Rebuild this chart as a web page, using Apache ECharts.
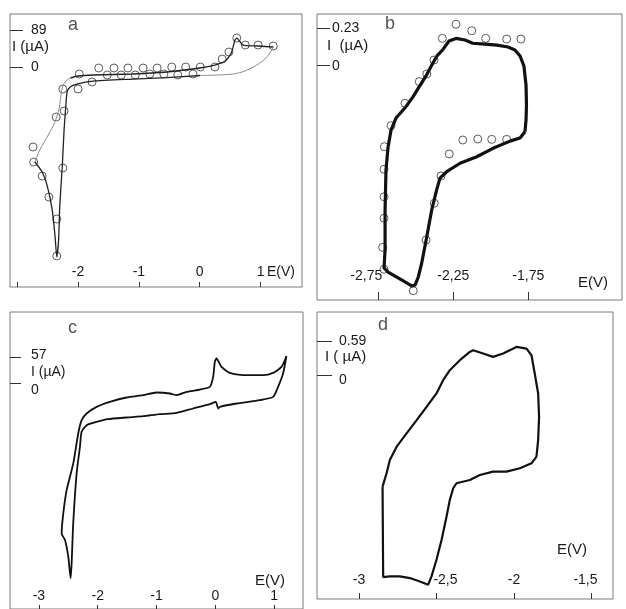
<!DOCTYPE html>
<html>
<head>
<meta charset="utf-8">
<script src="https://cdn.jsdelivr.net/npm/echarts@6/dist/echarts.min.js"></script>
<style>
  html, body { margin: 0; padding: 0; background: #fff; }
  #container { width: 626px; height: 609px; }
</style>
</head>
<body>
<div id="container"></div>
<script>
// ---- data (E in V, I in uA) ----
// panel a
var aBlackLower = [[0.01,-20.4],[-0.54,-25.3],[-1.10,-28.9],[-1.75,-33.7],[-2.02,-40.9],[-2.13,-48.1],[-2.18,-60.1],[-2.20,-91.4],[-2.23,-151.5],[-2.26,-240.5],[-2.30,-331.9],[-2.32,-416],[-2.35,-457],[-2.38,-404],[-2.43,-339],[-2.51,-284],[-2.59,-252.5],[-2.71,-228.5]];
var aGreyLeft = [[-2.71,-228.5],[-2.63,-199.6],[-2.49,-163.5],[-2.38,-132.3],[-2.31,-98.6],[-2.28,-67.3],[-2.25,-45.7],[-2.20,-33.7],[-2.13,-26.5]];
var aBlackUpper = [[-2.13,-26.5],[-2.00,-21.6],[-1.75,-19.2],[-1.10,-16.8],[-0.54,-12],[0.0,-2.4],[0.25,4.8],[0.42,14.4],[0.52,33.7],[0.58,64.9],[0.61,69.7],[0.71,52.9],[0.96,50.5],[1.21,48.1]];
var aGreyReturn = [[1.21,48.1],[1.11,24.8],[0.94,4.8],[0.71,-11.3],[0.50,-17.6],[0.01,-20.4]];
var aCircles = [[-1.98,-16.8],[-1.66,-2.4],[-1.41,-2.4],[-1.18,-2.4],[-0.93,-2.4],[-0.70,-2.4],[-0.46,0],[-0.23,0],[0.01,0],[0.25,0],[0.37,19.2],[0.48,36.1],[0.61,69.7],[0.75,52.9],[0.96,52.9],[1.21,50.5],
  [-1.52,-19.2],[-1.29,-19.2],[-1.06,-19.2],[-0.82,-16.8],[-0.59,-16.8],[-0.36,-19.2],[-0.11,-16.8],
  [-1.77,-36.1],[-2.00,-52.9],[-2.25,-52.9],[-2.23,-105.8],[-2.36,-120.3],[-2.74,-192.4],[-2.73,-228.5],[-2.59,-262.1],[-2.48,-312.7],[-2.25,-242.9],[-2.35,-365.6],[-2.35,-454.5]];

// panel b
var bLoop = [[-1.772,-0.406],[-1.805,-0.445],[-1.872,-0.464],[-1.985,-0.508],[-2.094,-0.560],[-2.205,-0.600],[-2.294,-0.652],[-2.339,-0.691],[-2.361,-0.764],[-2.394,-0.887],[-2.427,-1.052],[-2.461,-1.215],[-2.483,-1.298],[-2.505,-1.349],[-2.525,-1.355],[-2.572,-1.330],[-2.627,-1.300],[-2.685,-1.269],[-2.712,-1.244],[-2.705,-1.133],[-2.705,-0.888],[-2.699,-0.642],[-2.685,-0.50],[-2.665,-0.395],[-2.632,-0.322],[-2.566,-0.252],[-2.519,-0.192],[-2.477,-0.129],[-2.432,-0.063],[-2.387,0.015],[-2.359,0.060],[-2.321,0.097],[-2.279,0.152],[-2.232,0.168],[-2.172,0.158],[-2.121,0.138],[-2.039,0.133],[-1.959,0.127],[-1.885,0.115],[-1.839,0.097],[-1.805,0.060],[-1.779,-0.002],[-1.765,-0.119],[-1.762,-0.242],[-1.765,-0.334],[-1.772,-0.406]];
var bCircles = [[-2.232,0.255],[-2.127,0.215],[-2.323,0.168],[-2.034,0.168],[-1.894,0.164],[-1.799,0.164],[-2.379,0.035],[-2.427,-0.051],[-2.477,-0.098],[-2.572,-0.231],[-2.665,-0.369],[-2.71,-0.498],[-2.712,-0.637],[-2.712,-0.806],[-2.712,-0.938],[-2.721,-1.117],[-2.712,-1.252],[-2.517,-1.384],[-2.432,-1.072],[-2.377,-0.846],[-2.332,-0.678],[-2.277,-0.543],[-2.187,-0.457],[-2.087,-0.451],[-1.994,-0.453],[-1.894,-0.453]];

// panel c
var cLoop = [[1.209,58.5],[1.125,35.6],[0.982,22.7],[0.812,17.8],[0.472,17.8],[0.246,22.7],[0.105,35.6],[0.020,53.6],[-0.008,46.3],[-0.037,14.1],[-0.093,-7.3],[-0.263,-12.9],[-0.489,-18.0],[-0.659,-25.1],[-0.773,-21.4],[-0.999,-19.3],[-1.226,-25.1],[-1.508,-30.0],[-1.792,-39.4],[-2.018,-50.1],[-2.188,-64.3],[-2.273,-78.6],[-2.331,-107.2],[-2.415,-171.4],[-2.528,-228.7],[-2.585,-278.6],[-2.613,-321.5],[-2.556,-335.8],[-2.500,-371.6],[-2.460,-417.9],[-2.443,-385.7],[-2.416,-300.0],[-2.358,-192.9],[-2.302,-135.9],[-2.273,-103.7],[-2.188,-89.4],[-2.018,-82.3],[-1.826,-76.5],[-1.508,-72.9],[-1.226,-70.1],[-0.943,-65.8],[-0.659,-63.0],[-0.377,-53.6],[-0.093,-44.4],[0.008,-39.4],[0.048,-53.6],[0.076,-50.1],[0.360,-42.9],[0.756,-35.8],[0.982,-28.7],[1.067,-7.3],[1.152,21.4],[1.209,58.5]];

// panel d
var dLoop = [[-2.848,-1.921],[-2.822,-1.691],[-2.801,-1.462],[-2.757,-1.233],[-2.693,-1.003],[-2.628,-0.774],[-2.564,-0.545],[-2.500,-0.315],[-2.457,-0.086],[-2.414,0.086],[-2.349,0.258],[-2.285,0.401],[-2.264,0.430],[-2.199,0.373],[-2.135,0.315],[-2.070,0.373],[-2.027,0.430],[-1.984,0.487],[-1.919,0.459],[-1.887,0.344],[-1.866,0.029],[-1.844,-0.315],[-1.838,-0.717],[-1.844,-1.118],[-1.855,-1.405],[-1.887,-1.519],[-1.962,-1.605],[-2.048,-1.663],[-2.135,-1.663],[-2.220,-1.720],[-2.285,-1.806],[-2.371,-1.863],[-2.392,-1.949],[-2.414,-2.150],[-2.435,-2.437],[-2.467,-2.838],[-2.500,-3.182],[-2.532,-3.469],[-2.554,-3.612],[-2.607,-3.555],[-2.672,-3.497],[-2.736,-3.469],[-2.801,-3.469],[-2.844,-3.480],[-2.848,-1.921]];

// ticks
var aTicksX = [-3, -2, -1, 0, 1], aLabelsX = [-2, -1, 0, 1], aTicksY = [0, 89];
var bTicksX = [-2.75, -2.25, -1.75], bTicksY = [0, 0.23];
var cTicksX = [-3, -2, -1, 0, 1], cTicksY = [0, 57];
var dTicksX = [-3, -2.5, -2, -1.5], dTicksY = [0, 0.59];

var FONT = '"Liberation Sans", Arial, Helvetica, sans-serif';
var INK = '#1a1a1a';

function comma(v) { return String(v).replace('.', ','); }

function xAx(i, min, max, ticks, labels, margin, tickLen, fmt, rich) {
  return {
    type: 'value', gridIndex: i, min: min, max: max, position: 'bottom',
    axisLine: { show: false, onZero: false }, splitLine: { show: false },
    axisTick: { inside: true, length: tickLen, customValues: ticks, lineStyle: { color: '#333', width: 1 } },
    axisLabel: { inside: true, margin: margin, customValues: labels, formatter: fmt,
      color: INK, fontSize: 14, fontFamily: FONT, rich: rich || {} }
  };
}
function yAx(i, min, max, ticks, margin, tickLen, fmt, rich) {
  return {
    type: 'value', gridIndex: i, min: min, max: max, position: 'left',
    axisLine: { show: false, onZero: false }, splitLine: { show: false },
    axisTick: { inside: true, length: tickLen, customValues: ticks, lineStyle: { color: '#333', width: 1 } },
    axisLabel: { inside: true, margin: margin, customValues: ticks, formatter: fmt,
      color: INK, fontSize: 14, fontFamily: FONT, rich: rich || {} }
  };
}

var rs = function (pad) { return { fontSize: 14, fontFamily: FONT, color: INK, padding: pad }; };

function line(i, data, color, width, smooth) {
  return { type: 'line', xAxisIndex: i, yAxisIndex: i, data: data, showSymbol: false, smooth: smooth,
    lineStyle: { color: color, width: width }, silent: true };
}
function dots(i, data, size) {
  return { type: 'scatter', xAxisIndex: i, yAxisIndex: i, data: data, symbol: 'circle', symbolSize: size,
    itemStyle: { color: 'rgba(255,255,255,0)', borderColor: '#333', borderWidth: 1 }, silent: true };
}
function txt(x, y, s, size, color, align) {
  return { type: 'text', x: x, y: y, silent: true,
    style: { text: s, fill: color || INK, font: size + 'px ' + FONT,
      align: align || 'left', verticalAlign: 'middle', textAlign: align || 'left', textVerticalAlign: 'middle' } };
}

var gridStyle = { show: true, borderColor: '#7a7a7a', borderWidth: 1, backgroundColor: 'transparent' };

var dom = document.getElementById('container');
var myChart = echarts.init(dom, null, { renderer: 'canvas' });

var option = {
  animation: false,
  grid: [
    Object.assign({ left: 10, top: 14, width: 292, height: 273 }, gridStyle),
    Object.assign({ left: 317, top: 14, width: 305, height: 286 }, gridStyle),
    Object.assign({ left: 10, top: 312, width: 293, height: 297 }, gridStyle),
    Object.assign({ left: 317, top: 312, width: 296, height: 287 }, gridStyle)
  ],
  xAxis: [
    xAx(0, -3.119, 1.682, aTicksX, aLabelsX, 8, 5, function (v) { return String(v); }),
    xAx(1, -3.159, -1.125, bTicksX, bTicksX, 17, 8, function (v) {
      return v === -2.75 ? '{l|' + comma(v) + '}' : comma(v);
    }, { l: rs([0, 24, 0, 0]) }),
    xAx(2, -3.491, 1.491, cTicksX, cTicksX, 6, 4, function (v) { return String(v); }),
    xAx(3, -3.271, -1.361, dTicksX, dTicksX, 12, 6, function (v) {
      if (v === -2.5) return '{r|' + comma(v) + '}';
      if (v === -1.5) return '{l|' + comma(v) + '}';
      return comma(v);
    }, { r: rs([0, 0, 0, 18]), l: rs([0, 12, 0, 0]) })
  ],
  yAxis: [
    yAx(0, -529.1, 127.5, aTicksY, 21, 13, function (v) { return String(v); }),
    yAx(1, -1.441, 0.318, bTicksY, 15, 13, function (v) { return String(v); }),
    yAx(2, -483.7, 153.4, cTicksY, 21, 11, function (v) {
      return v === 0 ? '{lo|0}' : '{hi|' + v + '}';
    }, { lo: rs([14, 0, 0, 0]), hi: rs([0, 0, 4, 0]) }),
    yAx(3, -3.858, 1.089, dTicksY, 22, 15, function (v) {
      return v === 0 ? '{lo|0}' : String(v);
    }, { lo: rs([10, 0, 0, 0]) })
  ],
  graphic: [
    txt(68, 25, 'a', 18, '#555'),
    txt(385, 24, 'b', 18, '#555'),
    txt(68, 328, 'c', 18, '#555'),
    txt(378, 325, 'd', 18, '#555'),
    txt(12, 47, 'I (\u00b5A)', 15),
    txt(327, 46, 'I  (\u00b5A)', 15),
    txt(31, 372, 'I (\u00b5A)', 14),
    txt(325, 357, 'I ( \u00b5A)', 15),
    txt(267, 272, 'E(V)', 14),
    txt(578, 283, 'E(V)', 15),
    txt(255, 581, 'E(V)', 15),
    txt(557, 550, 'E(V)', 15)
  ],
  series: [
    line(0, aBlackLower, '#222', 1.3, 0.2),
    line(0, aGreyLeft, '#8a8a8a', 1, 0.3),
    line(0, aBlackUpper, '#222', 1.3, 0.2),
    line(0, aGreyReturn, '#8a8a8a', 1, 0.3),
    dots(0, aCircles, 8),
    line(1, bLoop, '#111', 3.2, false),
    dots(1, bCircles, 8),
    line(2, cLoop, '#111', 1.8, 0.2),
    line(3, dLoop, '#111', 2.2, false)
  ]
};

if (option && typeof option === 'object') {
  myChart.setOption(option, true);
}
</script>
</body>
</html>
